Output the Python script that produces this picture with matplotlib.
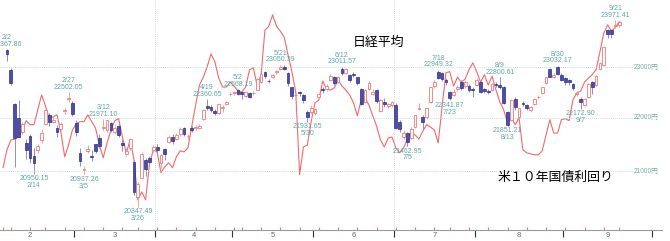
import matplotlib
matplotlib.use("Agg")
import matplotlib.pyplot as plt
import numpy as np
import pandas as pd

plt.rcParams['font.family'] = ['Noto Sans CJK JP', 'DejaVu Sans']

# 東証の営業日 (2018/2/1 - 9/28)
holidays = ['2018-02-12', '2018-03-21', '2018-04-30', '2018-05-03', '2018-05-04',
            '2018-07-16', '2018-09-17', '2018-09-24']
days = pd.bdate_range('2018-02-01', '2018-09-28', freq='C', holidays=holidays)

# 日経平均 四本値 (2/2 - 9/25)
opens = [23361, 22946, 22270, 22000, 21730, 21530, 21660, 21270, 21397, 21570,
         21890, 22060, 21930, 21810, 21790, 22130, 22370, 22300, 21910, 21340,
         21020, 21370, 21280, 21500, 21610, 21810, 21760, 21900, 21740, 21850,
         21530, 21310, 21420, 21175, 20530, 20880, 21200, 21250, 21390, 21440,
         21150, 21410, 21550, 21640, 21590, 21690, 21800, 21650, 21800, 21800,
         21810, 21980, 22230, 22220, 22130, 22100, 22200, 22270, 22460, 22490,
         22540, 22500, 22430, 22480, 22490, 22550, 22700, 22900, 22720, 22800,
         22900, 22960, 23010, 22880, 22600, 22440, 22500, 22450, 22110, 22120,
         22090, 22400, 22560, 22560, 22740, 22800, 22700, 22960, 22880, 22850,
         22860, 22800, 22560, 22320, 22560, 22470, 22550, 22140, 22320, 22230,
         22260, 22250, 21930, 21640, 21720, 21620, 21830, 22180, 22010, 22020,
         22320, 22620, 22910, 22880, 22750, 22500, 22450, 22560, 22700, 22620,
         22620, 22560, 22650, 22700, 22560, 22520, 22550, 22660, 22650, 22600,
         22120, 21960, 22370, 22020, 22300, 22250, 22150, 22280, 22400, 22490,
         22680, 22960, 22800, 23000, 22850, 22780, 22740, 22670, 22470, 22370,
         22250, 22400, 22700, 22640, 22960, 23050, 23760, 23760, 23850, 23860]
highs = [23367.86, 22990, 22290, 22350, 21930, 21600, 21700, 21430, 21500, 21780,
         22160, 22100, 22030, 21860, 21920, 22200, 22502.05, 22330, 21960, 21420,
         21090, 21480, 21400, 21510, 21700, 21971.10, 21968, 21930, 21860, 21880,
         21600, 21420, 21620, 21200, 20800, 21350, 21250, 21280, 21480, 21500,
         21310, 21420, 21680, 21700, 21710, 21830, 21830, 21700, 21850, 21860,
         21890, 22170, 22360.65, 22250, 22170, 22300, 22260, 22340, 22500, 22530,
         22568.19, 22520, 22530, 22500, 22530, 22780, 22880, 22930, 22760, 22860,
         22950, 23050.39, 23040, 22900, 22610, 22480, 22520, 22460, 22150, 22250,
         22200, 22490, 22600, 22660, 22860, 22830, 22830, 23011.57, 22990, 22870,
         22900, 22810, 22580, 22560, 22720, 22560, 22560, 22370, 22380, 22300,
         22330, 22300, 21960, 21760, 21740, 21830, 22060, 22300, 22050, 22200,
         22610, 22750, 22949.32, 22900, 22790, 22520, 22560, 22640, 22750, 22740,
         22660, 22600, 22780, 22720, 22580, 22560, 22690, 22700, 22800.61, 22620,
         22130, 22370, 22400, 22200, 22330, 22280, 22240, 22380, 22440, 22610,
         22800, 22980, 22880, 23032.17, 22880, 22800, 22760, 22690, 22520, 22400,
         22390, 22680, 22720, 22840, 23100, 23440, 23780, 23780, 23971.41, 23960]
lows = [23130, 22650, 21078, 21630, 21700, 21230, 21150, 20950.15, 21330, 21530,
        21870, 21850, 21900, 21640, 21760, 22080, 22310, 22040, 21650, 21100,
        20937.26, 21330, 21180, 21330, 21420, 21760, 21740, 21730, 21700, 21640,
        21380, 21280, 21400, 20560, 20347.49, 20880, 20900, 21100, 21350, 21300,
        21060, 21200, 21520, 21500, 21570, 21660, 21660, 21600, 21740, 21770,
        21780, 21960, 22150, 22120, 22050, 22070, 22120, 22250, 22420, 22450,
        22450, 22360, 22400, 22380, 22450, 22540, 22690, 22790, 22680, 22780,
        22870, 22940, 22940, 22630, 22370, 22380, 22420, 22300, 21931.65, 22070,
        22060, 22380, 22490, 22520, 22720, 22650, 22680, 22850, 22860, 22700,
        22800, 22650, 22260, 22290, 22540, 22440, 22300, 22110, 22220, 22200,
        22220, 21780, 21740, 21600, 21462.95, 21590, 21810, 22150, 21780, 21990,
        22300, 22580, 22760, 22720, 22650, 22341.87, 22420, 22520, 22540, 22590,
        22500, 22400, 22620, 22480, 22480, 22460, 22530, 22600, 22560, 22280,
        21851.21, 21940, 22150, 21990, 22230, 22150, 22110, 22250, 22360, 22470,
        22660, 22800, 22780, 22850, 22720, 22650, 22640, 22550, 22420, 22172.90,
        22230, 22380, 22460, 22620, 22940, 23030, 23590, 23590, 23800, 23830]
closes = [23274, 22682, 21610, 21645, 21891, 21382, 21245, 21154, 21464, 21720,
          22149, 21925, 21970, 21736, 21892, 22153, 22389, 22068, 21724, 21181,
          21042, 21417, 21252, 21368, 21469, 21824, 21968, 21777, 21803, 21676,
          21480, 21380, 21591, 20617, 20766, 21317, 21031, 21159, 21454, 21388,
          21292, 21319, 21645, 21567, 21678, 21794, 21687, 21660, 21778, 21835,
          21847, 22158, 22191, 22162, 22088, 22278, 22215, 22319, 22467, 22508,
          22472, 22467, 22508, 22408, 22497, 22758, 22865, 22818, 22717, 22838,
          22930, 23002, 22960, 22689, 22437, 22450, 22481, 22358, 22018, 22201,
          22171, 22475, 22539, 22625, 22823, 22694, 22804, 22878, 22966, 22738,
          22851, 22680, 22278, 22555, 22693, 22516, 22338, 22342, 22271, 22270,
          22304, 21811, 21785, 21717, 21546, 21788, 22052, 22196, 21932, 22187,
          22597, 22697, 22794, 22764, 22697, 22397, 22510, 22614, 22586, 22712,
          22544, 22553, 22746, 22512, 22525, 22507, 22662, 22644, 22598, 22298,
          21857, 22356, 22204, 22192, 22270, 22199, 22219, 22362, 22410, 22601,
          22799, 22813, 22848, 22869, 22740, 22707, 22696, 22580, 22487, 22307,
          22373, 22664, 22604, 22821, 23094, 23420, 23672, 23674, 23869, 23940]

# 米10年国債利回り % (2/1 - 9/25)
us10y = [2.801, 2.837, 2.857, 2.859, 2.863, 2.877, 2.896, 2.888, 2.888, 2.918,
         2.948, 2.926, 2.900, 2.904, 2.908, 2.873, 2.823, 2.847, 2.877, 2.890,
         2.894, 2.894, 2.908, 2.894, 2.881, 2.847, 2.821, 2.851, 2.877, 2.896,
         2.900, 2.863, 2.831, 2.857, 2.817, 2.736, 2.752, 2.736, 2.807, 2.837,
         2.833, 2.791, 2.803, 2.811, 2.801, 2.823, 2.835, 2.833, 2.841, 2.885,
         2.928, 2.968, 2.984, 3.005, 3.031, 3.015, 2.982, 2.964, 2.964, 2.974,
         2.966, 2.956, 2.954, 2.964, 2.999, 3.003, 2.966, 2.989, 3.079, 3.087,
         3.110, 3.087, 3.077, 3.065, 3.029, 2.995, 2.954, 2.787, 2.843, 2.847,
         2.894, 2.932, 2.938, 2.976, 2.960, 2.958, 2.962, 2.978, 2.966, 2.958,
         2.948, 2.932, 2.906, 2.938, 2.942, 2.928, 2.906, 2.885, 2.857, 2.843,
         2.861, 2.863, 2.841, 2.831, 2.841, 2.859, 2.873, 2.867, 2.859, 2.875,
         2.888, 2.883, 2.877, 2.851, 2.924, 2.993, 2.995, 2.966, 2.984, 2.974,
         2.980, 2.999, 3.013, 2.995, 2.974, 2.989, 2.968, 2.986, 2.958, 2.934,
         2.918, 2.892, 2.902, 2.888, 2.902, 2.837, 2.831, 2.829, 2.827, 2.827,
         2.835, 2.867, 2.898, 2.871, 2.871, 2.898, 2.900, 2.896, 2.938, 2.952,
         2.956, 2.974, 2.982, 2.989, 2.999, 3.035, 3.073, 3.090, 3.077, 3.085,
         3.096]

# 高値・安値を表示する日
high_marks = ['2018-02-02', '2018-02-27', '2018-03-12', '2018-04-19', '2018-05-02',
              '2018-05-21', '2018-06-12', '2018-07-18', '2018-08-09', '2018-08-30',
              '2018-09-21']
low_marks = ['2018-02-14', '2018-03-05', '2018-03-26', '2018-05-30', '2018-07-05',
             '2018-07-23', '2018-08-13', '2018-09-07']

price_grid = [21000, 22000, 23000]

# ---------------------------------------------------------------
o = np.array(opens, float)
h = np.array(highs, float)
l = np.array(lows, float)
c = np.array(closes, float)
cpos = np.arange(1, len(c) + 1)          # 2/2 からのスロット位置
candle_days = days[1:len(c) + 1]
lpos = np.arange(len(us10y))
XMIN, XMAX = -0.805, 173.2

fig = plt.figure(figsize=(6.7, 2.41), dpi=100)
ax = fig.add_axes([0, 11 / 241, 1, 230 / 241])
ax2 = ax.twinx()
ax.set_zorder(ax2.get_zorder() + 1)
ax.patch.set_visible(False)

# 米10年債 (非表示の右軸)
ax2.plot(lpos, us10y, color='#f06a6a', lw=0.8)
ax2.set_ylim(2.675, 3.14)
ax2.axis('off')

# ローソク足
up = c >= o
ax.vlines(cpos[up], l[up], h[up], color='#f4a0a0', lw=0.7, zorder=2)
ax.vlines(cpos[~up], l[~up], h[~up], color='#8c8cd0', lw=0.7, zorder=2)
body_lo = np.minimum(o, c)
body_h = np.maximum(np.abs(c - o), 1.0)
ax.bar(cpos[up], body_h[up], bottom=body_lo[up], width=0.72,
       facecolor='white', edgecolor='#f07878', linewidth=0.6, zorder=3)
ax.bar(cpos[~up], body_h[~up], bottom=body_lo[~up], width=0.72,
       facecolor='#4d4daa', edgecolor='#2c2c88', linewidth=0.5, zorder=3)

ax.set_yscale('log')
ax.yaxis.set_major_locator(plt.NullLocator())
ax.yaxis.set_minor_locator(plt.NullLocator())

# 月の区切り
month_first = [i for i in range(1, len(days)) if days[i].month != days[i - 1].month]
edges = [month_first[0] - 23] + month_first + [month_first[-1] + 23]
bounds = [e - 0.5 for e in edges]
centers = [(a + b) / 2 for a, b in zip(bounds[:-1], bounds[1:])]
month_names = [str(m) for m in range(2, 2 + len(centers))]

ax.set_xticks(bounds)
ax.set_xticklabels([])
ax.set_xticks(centers, minor=True)
ax.set_xticklabels(month_names, minor=True, fontsize=5.5, color='#666666',
                   family=['Liberation Sans', 'DejaVu Sans'])
ax.tick_params(axis='x', which='major', length=5, width=0.8, color='#333333', direction='out')
ax.tick_params(axis='x', which='minor', length=0, pad=1.2)

for s in ['top', 'right', 'left']:
    ax.spines[s].set_visible(False)
ax.spines['bottom'].set_color('#9a9a9a')
ax.spines['bottom'].set_linewidth(0.8)
ax.spines['bottom'].set_bounds(XMIN, 171.1)

# 週の区切り (赤い目盛)
wk = days.to_period('W')
week_start = [i for i in range(len(days)) if i == 0 or wk[i] != wk[i - 1]]
ax.vlines(week_start, 0, 0.013, transform=ax.get_xaxis_transform(),
          color='#f07070', lw=0.8, clip_on=False)

# 四半期の縦グリッド
q_bounds = [b for b, e in zip(bounds, edges) if 0 < e < len(days) and days[e].month in (4, 7)]
ax.vlines(q_bounds, 0, 1, transform=ax.get_xaxis_transform(),
          color='#c4c4c4', lw=0.6, linestyles=(0, (1, 1.5)))

# 価格グリッドと右ラベル
ax.hlines(price_grid, XMIN, 163.4, color='#b4d2d2', lw=0.6, linestyles=(0, (1, 1.5)))
for p in price_grid:
    ax.text(170.1, p, f'{p}円', ha='right', va='center', fontsize=4.8, color='#78a8a8',
            family=['Liberation Sans', 'Noto Sans CJK JP'])

# 範囲は目盛設定の後で固定する
ax.set_xlim(XMIN, XMAX)
ax.set_ylim(19941, 24399)

# 高値・安値ラベル
lab = dict(fontsize=5, color='#5fa6a6', family=['Liberation Sans', 'DejaVu Sans'],
           ha='center', linespacing=0.95, textcoords='offset points', zorder=5)
for d in high_marks:
    k = candle_days.get_loc(pd.Timestamp(d))
    dt = candle_days[k]
    ax.annotate(f'{dt.month}/{dt.day}\n{h[k]:.2f}', xy=(cpos[k], h[k]), xytext=(0, 1),
                va='bottom', **lab)
for d in low_marks:
    k = candle_days.get_loc(pd.Timestamp(d))
    dt = candle_days[k]
    ax.annotate(f'{l[k]:.2f}\n{dt.month}/{dt.day}', xy=(cpos[k], l[k]), xytext=(0, -1),
                va='top', **lab)

ax.text(378 / 670, 1 - 42 / 230, '日経平均', transform=ax.transAxes,
        ha='center', va='center', fontsize=9.3, color='black')
ax.text(555 / 670, 1 - 177 / 230, '米１０年国債利回り', transform=ax.transAxes,
        ha='center', va='center', fontsize=9.3, color='black')

fig.savefig('out.png', dpi=100)
